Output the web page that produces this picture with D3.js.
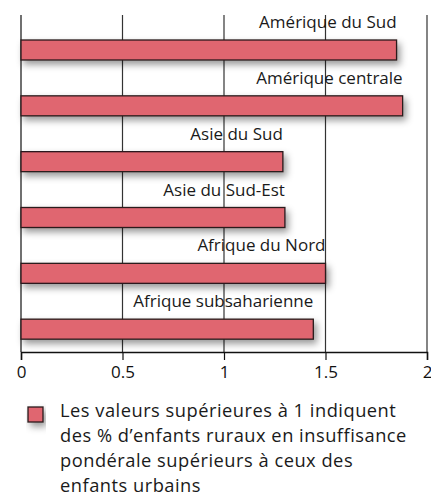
<!DOCTYPE html>
<html>
<head>
<meta charset="utf-8">
<script src="https://cdn.jsdelivr.net/npm/d3@7"></script>
<style>
  body { margin: 0; background: #fff; }
  svg { display: block; font-family: "Open Sans", sans-serif; }
</style>
</head>
<body>
<div id="chart"></div>
<script>
// Data
const regions = ["Amérique du Sud", "Amérique centrale", "Asie du Sud", "Asie du Sud-Est", "Afrique du Nord", "Afrique subsaharienne"];
const ratios = [1.85, 1.88, 1.29, 1.30, 1.50, 1.44];
const ticks = [0, 0.5, 1, 1.5, 2];
const tickLabels = ["0", "0.5", "1", "1.5", "2"];
const legendLines = [
  "Les valeurs supérieures à 1 indiquent",
  "des % d\u2019enfants ruraux en insuffisance",
  "pondérale supérieurs à ceux des",
  "enfants urbains"
];

const width = 431, height = 502;
const barColor = "#e06670";

const svg = d3.select("#chart").append("svg")
  .attr("width", width)
  .attr("height", height);

const defs = svg.append("defs");
const f = defs.append("filter").attr("id", "shadow")
  .attr("x", "-10%").attr("y", "-50%").attr("width", "130%").attr("height", "250%");
f.append("feDropShadow")
  .attr("dx", 3).attr("dy", 4).attr("stdDeviation", 3.5)
  .attr("flood-color", "#000").attr("flood-opacity", 0.4);

const x = d3.scaleLinear().domain([0, 2]).range([21, 427]);
const y = d3.scaleBand().domain(regions).range([15, 350]);

// grid lines
svg.append("g")
  .selectAll("line")
  .data(ticks)
  .join("line")
    .attr("x1", d => x(d)).attr("x2", d => x(d))
    .attr("y1", 15).attr("y2", 352)
    .attr("stroke", d => d === 0 ? "#111" : "#333")
    .attr("stroke-width", 1.2);

// bars
svg.append("g")
  .selectAll("rect")
  .data(regions)
  .join("rect")
    .attr("x", x(0))
    .attr("y", d => y(d) + 25)
    .attr("width", (d, i) => x(ratios[i]) - x(0))
    .attr("height", 20)
    .attr("fill", barColor)
    .attr("stroke", "#2a1a1c")
    .attr("stroke-width", 1.3)
    .attr("filter", "url(#shadow)");

// labels
svg.append("g")
    .attr("text-anchor", "end")
    .attr("font-size", 17)
    .attr("fill", "#1a1a1a")
  .selectAll("text")
  .data(regions)
  .join("text")
    .attr("x", (d, i) => x(ratios[i]))
    .attr("y", d => y(d) + 13)
    .text(d => d);

// x axis
const axis = svg.append("g")
  .attr("transform", "translate(0,352)")
  .call(d3.axisBottom(x).tickValues(ticks).tickFormat((d, i) => tickLabels[i]).tickSize(8).tickPadding(6));
axis.select(".domain").attr("stroke", "#111").attr("stroke-width", 1.5);
axis.selectAll(".tick line").attr("stroke", "#111").attr("stroke-width", 1.2);
axis.selectAll(".tick text")
  .attr("font-size", 17)
  .attr("font-family", "Open Sans, sans-serif")
  .attr("fill", "#111");

// legend
const legend = svg.append("g");
legend.append("rect")
  .attr("x", 28).attr("y", 407).attr("width", 15).attr("height", 15)
  .attr("fill", barColor).attr("stroke", "#2a1a1c").attr("stroke-width", 1.3)
  .attr("filter", "url(#shadow)");
legend.append("g")
    .attr("font-size", 18.3)
    .attr("letter-spacing", 0.5)
    .attr("fill", "#1a1a1a")
  .selectAll("text")
  .data(legendLines)
  .join("text")
    .attr("x", 60)
    .attr("y", (d, i) => 417 + i * 25)
    .text(d => d);
</script>
</body>
</html>
